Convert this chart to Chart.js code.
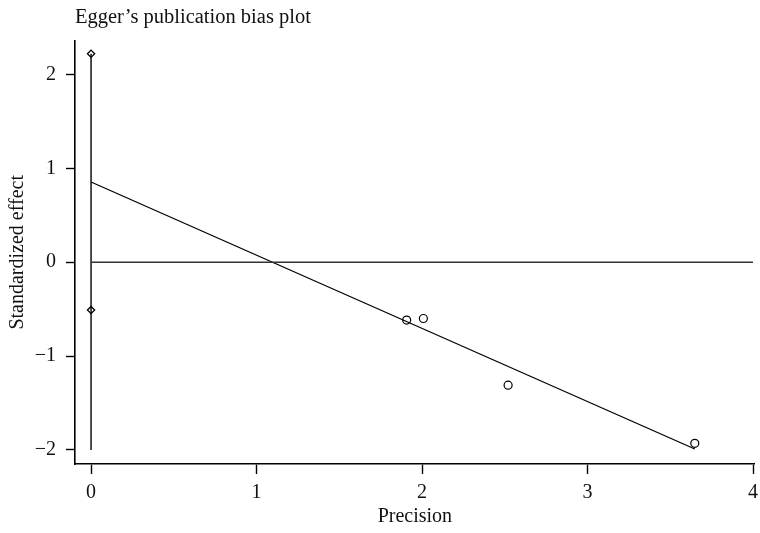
<!DOCTYPE html>
<html>
<head>
<meta charset="utf-8">
<script src="https://cdn.jsdelivr.net/npm/chart.js@4"></script>
<style>
  html, body { margin: 0; padding: 0; background: #fff; overflow: hidden; }
  #wrap { width: 760px; height: 533px; }
  canvas { display: block; }
</style>
</head>
<body>
<div id="wrap"><canvas id="c" width="760" height="533"></canvas></div>
<script>
// Studies: precision vs standardized effect
const studyPrecision = [1.907, 2.008, 2.52, 3.648];
const studyEffect = [-0.617, -0.60, -1.31, -1.93];
// Egger regression line endpoints
const regX = [0, 3.648];
const regY = [0.854, -1.99];
// Intercept CI markers at precision 0
const ciX = [0, 0];
const ciY = [2.22, -0.51];
// Vertical reference line at precision 0
const vLineY = [2.22, -2.0];
// Horizontal zero line
const zeroX = [0, 4];
// Tick labels
const xTicks = [0, 1, 2, 3, 4];
const yTicks = [-2, -1, 0, 1, 2];

const FONT = "'Liberation Serif', 'DejaVu Serif', serif";
const toPts = (xs, ys) => xs.map((x, i) => ({x: x, y: ys[i]}));

new Chart(document.getElementById('c'), {
  type: 'scatter',
  data: {
    datasets: [
      { label: 'zero', data: toPts(zeroX, [0, 0]), showLine: true, borderColor: '#333', borderWidth: 1.5, pointRadius: 0 },
      { label: 'vline', data: toPts([0, 0], vLineY), showLine: true, borderColor: '#000', borderWidth: 1.4, pointRadius: 0 },
      { label: 'regression', data: toPts(regX, regY), showLine: true, borderColor: '#000', borderWidth: 1.3, pointRadius: 0 },
      { label: 'ci', data: toPts(ciX, ciY), pointStyle: 'rectRot', pointRadius: 3.6, pointBackgroundColor: '#fff', pointBorderColor: '#000', pointBorderWidth: 1.3 },
      { label: 'studies', data: toPts(studyPrecision, studyEffect), pointStyle: 'circle', pointRadius: 4, pointBackgroundColor: '#fff', pointBorderColor: '#000', pointBorderWidth: 1.2 }
    ]
  },
  options: {
    responsive: false,
    devicePixelRatio: 1,
    animation: false,
    layout: { padding: 0 },
    plugins: {
      legend: { display: false },
      tooltip: { enabled: false },
      title: {
        display: true, text: 'Egger\u2019s publication bias plot', fullSize: false, align: 'start', color: '#111',
        font: { family: FONT, size: 20.5, weight: 'normal' }, padding: { top: 5, bottom: 11 }
      }
    },
    scales: {
      x: {
        type: 'linear', min: -0.097, max: 4.01,
        afterBuildTicks: s => { s.ticks = xTicks.map(v => ({value: v})); },
        afterFit: s => { s.height = 69; s.paddingRight = 0; s.paddingLeft = 0; },
        border: { display: true, color: '#000', width: 1.6 },
        grid: { display: true, drawOnChartArea: false, drawTicks: true, tickLength: 10, color: '#000', tickWidth: 1.4 },
        ticks: { color: '#111', padding: 7, font: { family: FONT, size: 20 }, callback: v => String(v) },
        title: { display: true, text: 'Precision', color: '#111', font: { family: FONT, size: 20 }, padding: { top: 0, bottom: 4 } }
      },
      y: {
        type: 'linear', min: -2.15, max: 2.36,
        afterBuildTicks: s => { s.ticks = yTicks.map(v => ({value: v})); },
        afterFit: s => { s.width = 75; s.paddingTop = 0; s.paddingBottom = 0; },
        border: { display: true, color: '#000', width: 1.6 },
        grid: { display: true, drawOnChartArea: false, drawTicks: true, tickLength: 9, color: '#000', tickWidth: 1.4 },
        ticks: { color: '#111', padding: 10, font: { family: FONT, size: 20 }, callback: v => (v < 0 ? '\u2212' + Math.abs(v) : String(v)) },
        title: { display: true, text: 'Standardized effect', color: '#111', font: { family: FONT, size: 20 }, padding: { top: 6, bottom: 0 } }
      }
    }
  }
});
</script>
</body>
</html>
